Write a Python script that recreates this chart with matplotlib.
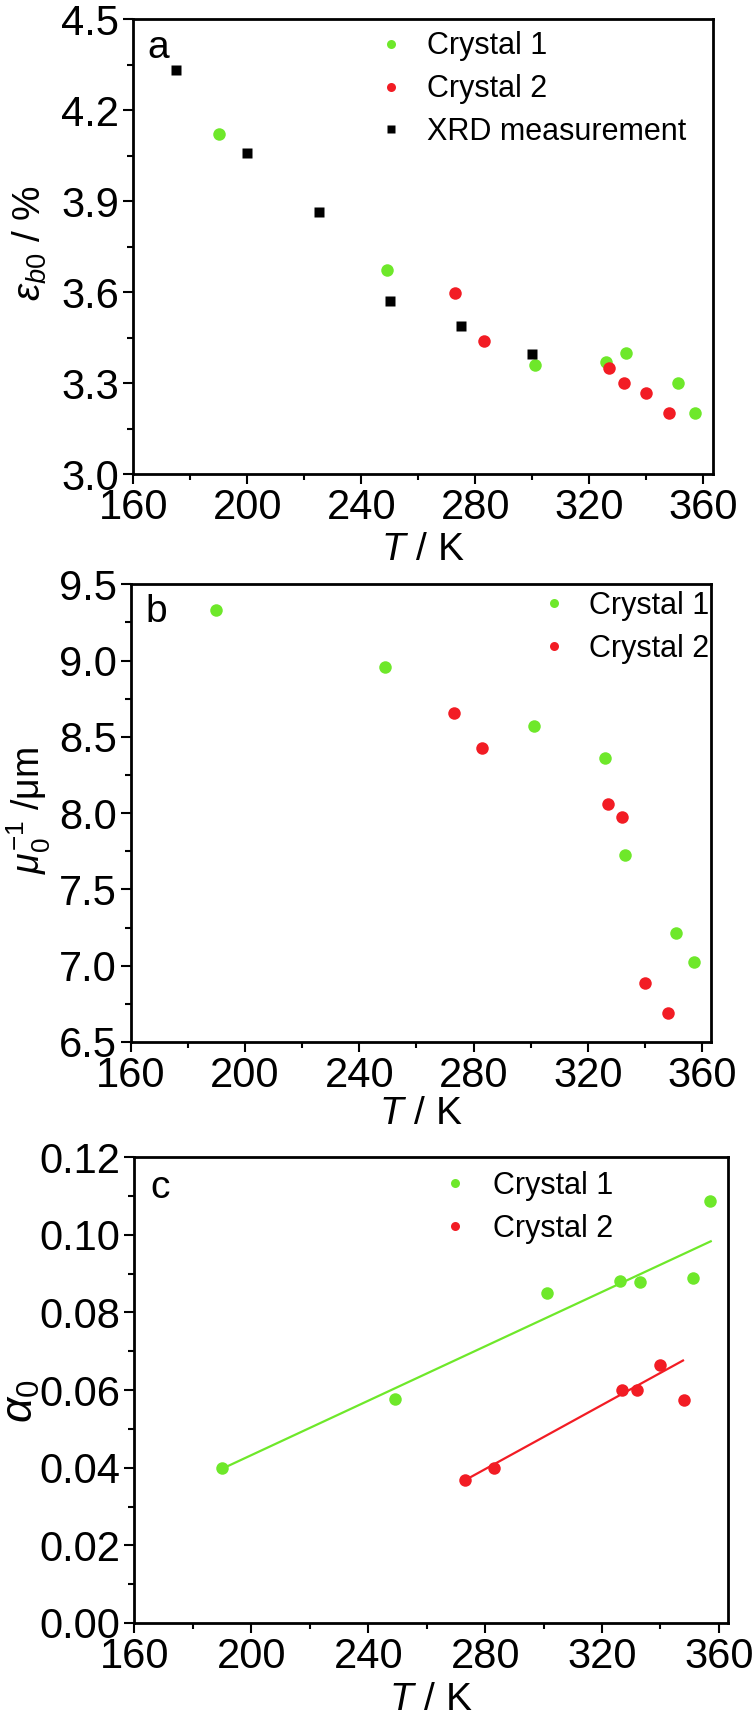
import matplotlib
matplotlib.use("Agg")
import matplotlib.pyplot as plt
from matplotlib.ticker import MultipleLocator, FormatStrFormatter

plt.rcParams['font.family'] = ['Liberation Sans', 'DejaVu Sans']
plt.rcParams['mathtext.fontset'] = 'custom'
plt.rcParams['mathtext.rm'] = 'Liberation Sans'
plt.rcParams['mathtext.it'] = 'Liberation Sans:italic'
plt.rcParams['mathtext.bf'] = 'Liberation Sans:bold'

GREEN = '#6ee82a'
RED = '#f21c24'

# ---- Panel a: strain ----
a_c1_T = [190, 249, 301, 326, 333, 351, 357]
a_c1_v = [4.121, 3.673, 3.36, 3.37, 3.40, 3.30, 3.20]
a_c2_T = [273, 283, 327, 332, 340, 348]
a_c2_v = [3.596, 3.438, 3.349, 3.30, 3.266, 3.20]
a_xrd_T = [175, 200, 225, 250, 275, 300]
a_xrd_v = [4.333, 4.06, 3.863, 3.569, 3.487, 3.396]

# ---- Panel b: mu0^-1 ----
b_c1_T = [190, 249, 301, 326, 333, 351, 357]
b_c1_v = [9.329, 8.957, 8.569, 8.36, 7.724, 7.216, 7.022]
b_c2_T = [273, 283, 327, 332, 340, 348]
b_c2_v = [8.655, 8.426, 8.061, 7.972, 6.884, 6.692]

# ---- Panel c: alpha0 ----
c_c1_T = [190, 249, 301, 326, 333, 351, 357]
c_c1_v = [0.0398, 0.0577, 0.0850, 0.0882, 0.0878, 0.0889, 0.1086]
c_c2_T = [273, 283, 327, 332, 340, 348]
c_c2_v = [0.0369, 0.0398, 0.0600, 0.0600, 0.0664, 0.0574]
c_fit1_T = [190.2, 357.2]
c_fit1_v = [0.0398, 0.0983]
c_fit2_T = [273.4, 347.7]
c_fit2_v = [0.0369, 0.0676]

xticks = [160, 200, 240, 280, 320, 360]

TICK_FS = 30
LAB_FS = 28
LEG_FS = 22
MS = 9
SQ = 7.5

fig = plt.figure(figsize=(7.53, 17.2), dpi=100)
ax_a = fig.add_axes([0.177, 0.7244, 0.7695, 0.2645])
ax_b = fig.add_axes([0.1736, 0.3942, 0.7706, 0.2661])
ax_c = fig.add_axes([0.1786, 0.0564, 0.7878, 0.2709])


def style(ax, xmax, ylim, ymaj, ymin, fmt):
    ax.set_xlim(160, xmax)
    ax.set_ylim(*ylim)
    ax.set_xticks(xticks)
    ax.xaxis.set_minor_locator(MultipleLocator(20))
    ax.yaxis.set_major_locator(MultipleLocator(ymaj))
    ax.yaxis.set_minor_locator(MultipleLocator(ymin))
    ax.yaxis.set_major_formatter(FormatStrFormatter(fmt))
    ax.tick_params(which='major', direction='out', length=7, width=1.5,
                   labelsize=TICK_FS, pad=3, top=False, right=False)
    ax.tick_params(which='minor', direction='out', length=4.3, width=1.5,
                   top=False, right=False)
    for s in ax.spines.values():
        s.set_linewidth(2)
    ax.set_xlabel(r'$T$ / K', fontsize=LAB_FS)
    ax.xaxis.label.set_va('center')
    ax.yaxis.label.set_va('center')


def legend(ax, anchor, pad):
    ax.legend(loc='upper left', bbox_to_anchor=anchor, frameon=False, fontsize=LEG_FS,
              borderpad=0, borderaxespad=0, handlelength=1.0, handletextpad=pad,
              labelspacing=0.42, markerscale=0.72)


# Panel a
ax_a.plot(a_c1_T, a_c1_v, 'o', color=GREEN, ms=MS, mec='none', label='Crystal 1')
ax_a.plot(a_c2_T, a_c2_v, 'o', color=RED, ms=MS, mec='none', label='Crystal 2')
ax_a.plot(a_xrd_T, a_xrd_v, 's', color='black', ms=SQ, mec='none', label='XRD measurement')
style(ax_a, 363.3, (3.0, 4.5), 0.3, 0.15, '%.1f')
ax_a.set_ylabel(r'$\varepsilon_{b0}$ / %', fontsize=LAB_FS)
ax_a.yaxis.set_label_coords(-0.178, 0.507)
ax_a.xaxis.set_label_coords(0.5, -0.166)
ax_a.text(0.043, 0.936, 'a', transform=ax_a.transAxes, fontsize=28, va='center', ha='center')
legend(ax_a, (0.4184, 0.973), 0.68)

# Panel b
ax_b.plot(b_c1_T, b_c1_v, 'o', color=GREEN, ms=MS, mec='none', label='Crystal 1')
ax_b.plot(b_c2_T, b_c2_v, 'o', color=RED, ms=MS, mec='none', label='Crystal 2')
style(ax_b, 363.1, (6.5, 9.5), 0.5, 0.25, '%.1f')
ax_b.set_ylabel(r'$\mu_0^{-1}$ /μm', fontsize=LAB_FS - 1)
ax_b.yaxis.set_label_coords(-0.176, 0.507)
ax_b.xaxis.set_label_coords(0.5, -0.158)
ax_b.text(0.044, 0.94, 'b', transform=ax_b.transAxes, fontsize=28, va='center', ha='center')
legend(ax_b, (0.703, 0.985), 0.66)

# Panel c
ax_c.plot(c_fit1_T, c_fit1_v, '-', color=GREEN, lw=1.6)
ax_c.plot(c_fit2_T, c_fit2_v, '-', color=RED, lw=1.6)
ax_c.plot(c_c1_T, c_c1_v, 'o', color=GREEN, ms=MS, mec='none', label='Crystal 1')
ax_c.plot(c_c2_T, c_c2_v, 'o', color=RED, ms=MS, mec='none', label='Crystal 2')
style(ax_c, 363.0, (0.0, 0.12), 0.02, 0.01, '%.2f')
ax_c.set_ylabel(r'$\alpha_0$', fontsize=LAB_FS + 4)
ax_c.yaxis.set_label_coords(-0.19, 0.475)
ax_c.xaxis.set_label_coords(0.5, -0.165)
ax_c.text(0.043, 0.933, 'c', transform=ax_c.transAxes, fontsize=28, va='center', ha='center')
legend(ax_c, (0.5145, 0.970), 0.74)

fig.savefig('out.png', dpi=100)
